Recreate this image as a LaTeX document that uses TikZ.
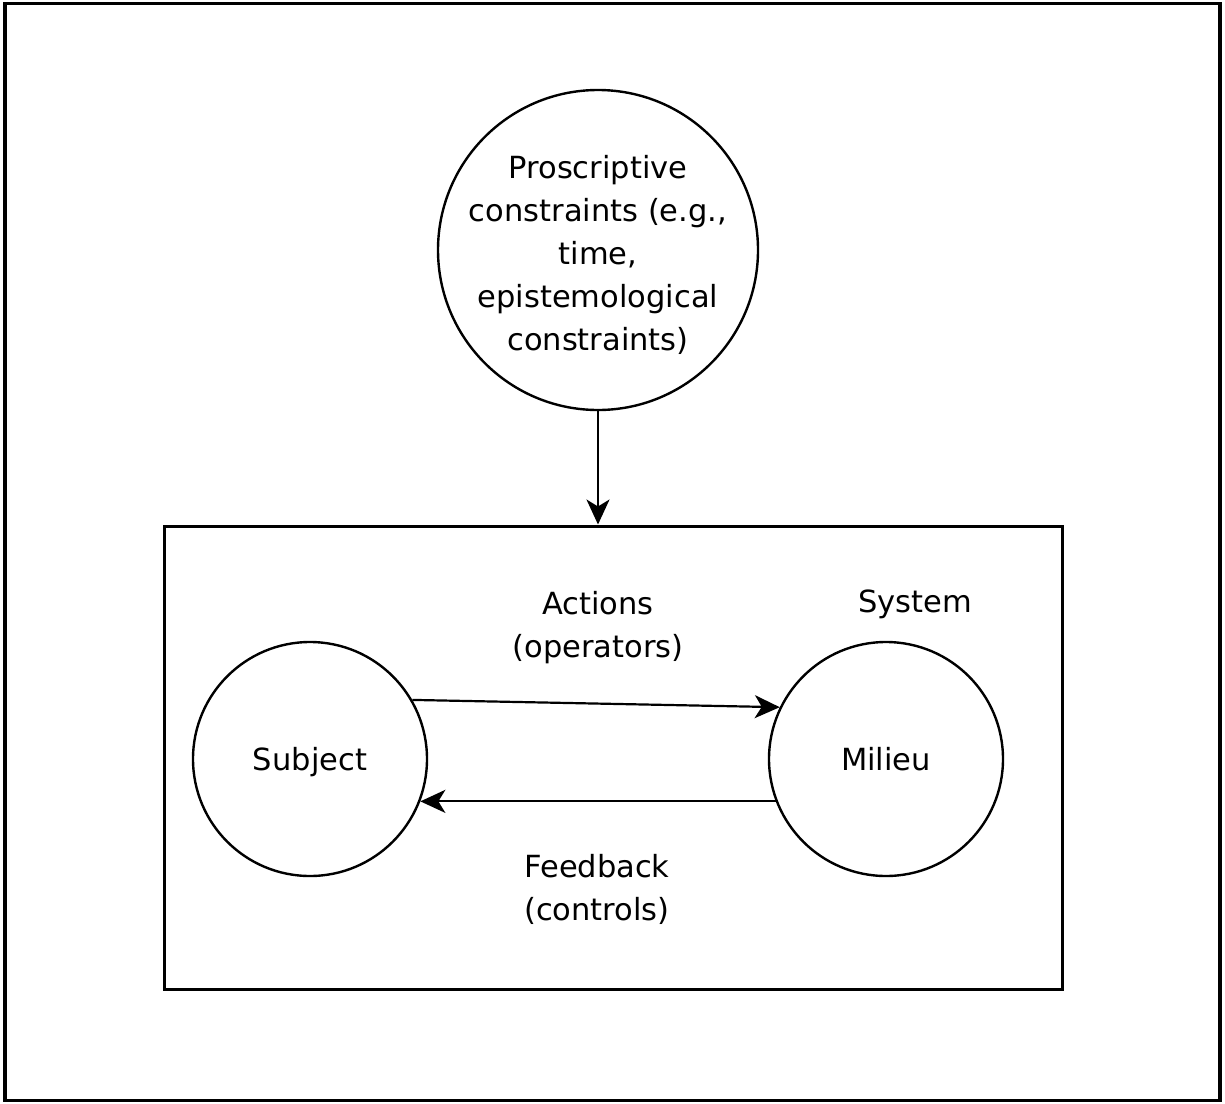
\documentclass[tikz,border=0pt]{standalone}
\usepackage{fontspec}
\setmainfont{DejaVu Sans}
\usetikzlibrary{arrows.meta}
\begin{document}
\begin{tikzpicture}[x=1pt,y=-1pt,
  every node/.style={font=\fontsize{30.5}{43}\selectfont, align=center},
  bubble/.style={draw, circle, line width=2.4pt, inner sep=0pt},
  label text/.style={inner sep=0pt},
  flow/.style={line width=2.2pt, -{Stealth[length=25pt,width=23pt,inset=7pt]}}]
  \useasboundingbox (0,0) rectangle (1225,1103);
  % outer frame
  \node[draw, line width=3.5pt, minimum width=1215pt, minimum height=1097pt, inner sep=0pt] (frame) at (612.5,552) {};
  % constraint bubble and its text
  \node[bubble, minimum size=320pt] (cons) at (598,250) {};
  \node[label text] (constxt) at (598,255)
    {Proscriptive\\constraints (e.g.,\\time,\\epistemological\\constraints)};
  % the system box
  \node[draw, line width=3pt, minimum width=898pt, minimum height=463pt, inner sep=0pt] (sys) at (613,757.5) {};
  \node[label text] (systxt) at (915,604) {System};
  % subject and milieu
  \node[bubble, minimum size=234pt, text depth=-4pt] (subj) at (310,759) {Subject};
  \node[bubble, minimum size=234pt] (mil) at (886,759) {Milieu};
  % connectors
  \draw[flow] (cons.south) -- (cons.south |- sys.north);
  \draw[flow] (subj.30) -- (mil.154);
  \draw[flow] (mil.201.5) -- (subj.-21.5);
  % connector labels
  \node[label text] (act) at (598,628) {Actions\\(operators)};
  \node[label text] (fb) at (597,889) {Feedback\\(controls)};
\end{tikzpicture}
\end{document}
